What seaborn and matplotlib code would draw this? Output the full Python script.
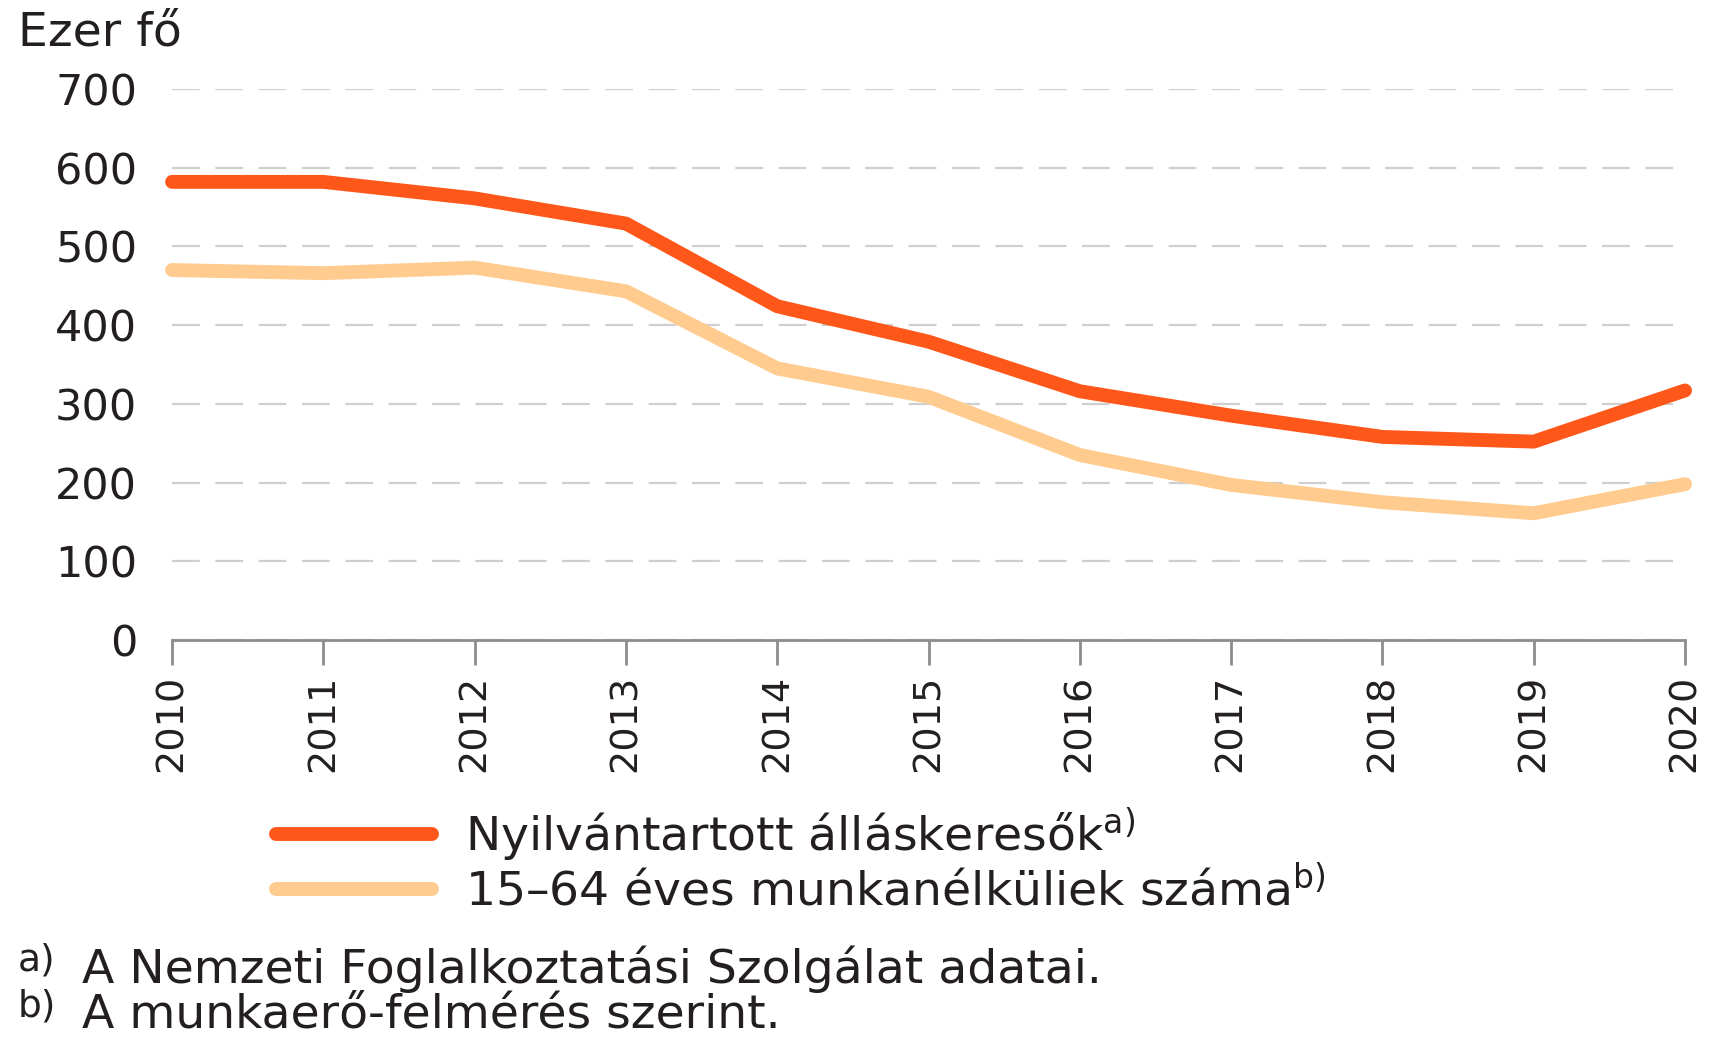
import pandas as pd
import seaborn as sns
import matplotlib.pyplot as plt

# Adatok (ezer fő)
years = list(range(2010, 2021))
allaskeresok = [582, 582, 561, 529, 424, 379, 316, 285, 258, 252, 317]
munkanelkuliek = [470, 466, 473, 443, 345, 309, 235, 197, 175, 161, 198]
series_names = ['Nyilvántartott álláskeresők', '15–64 éves munkanélküliek száma']
footnote_marks = ['a)', 'b)']
footnotes = ['A Nemzeti Foglalkoztatási Szolgálat adatai.',
             'A munkaerő-felmérés szerint.']
y_ticks = [0, 100, 200, 300, 400, 500, 600, 700]
unit_label = 'Ezer fő'
colors = ['#ff5719', '#ffcb8e']
text_color = '#231f20'

df = pd.DataFrame({'ev': years,
                   series_names[0]: allaskeresok,
                   series_names[1]: munkanelkuliek})
long = df.melt(id_vars='ev', var_name='sorozat', value_name='ertek')

sns.set_style('white')
plt.rcParams['font.family'] = ['DejaVu Sans']
plt.rcParams['mathtext.fontset'] = 'dejavusans'
plt.rcParams['text.color'] = text_color

fig = plt.figure(figsize=(17.14, 10.42), dpi=100)
ax = fig.add_axes([0.1004, 0.3858, 0.8827, 0.5288])

sns.lineplot(data=long, x='ev', y='ertek', hue='sorozat', hue_order=series_names,
             palette=colors, linewidth=10, ax=ax, legend=False)
for line in ax.lines:
    line.set_solid_capstyle('round')
    line.set_solid_joinstyle('round')
    line.set_clip_on(False)

ax.set_xlim(2010, 2020)
ax.set_ylim(0, 700)
ax.set_xlabel('')
ax.set_ylabel('')

# rácsvonalak
ax.set_axisbelow(True)
ax.yaxis.grid(True, color='#cfcfcf', linewidth=1.6, linestyle=(0, (12.5, 7)))
ax.xaxis.grid(False)

for side in ['left', 'right', 'top']:
    ax.spines[side].set_visible(False)
ax.spines['bottom'].set_color('#8c8c8c')
ax.spines['bottom'].set_linewidth(2)

ax.set_yticks(y_ticks)
ax.set_yticklabels([str(v) for v in y_ticks], fontsize=31, color=text_color)
ax.tick_params(axis='y', left=False, length=0, pad=25)

ax.set_xticks(years)
ax.set_xticklabels([str(y) for y in years], rotation=90, fontsize=27.5,
                   color=text_color, va='top')
ax.tick_params(axis='x', bottom=True, direction='out', length=18, width=2,
               color='#8c8c8c', pad=7)

fig.text(18 / 1714, 1 - 45 / 1042, unit_label, fontsize=34, va='baseline')

labels = [f'{name}$^{{\\mathrm{{{m}}}}}$' for name, m in zip(series_names, footnote_marks)]
fig.legend(ax.lines[:2], labels, loc='upper left',
           bbox_to_anchor=(276 / 1714, 1 - 805 / 1042), frameon=False,
           fontsize=34, handlelength=3.3, handletextpad=0.7,
           labelspacing=0.05, borderpad=0, borderaxespad=0)

for i, (m, t) in enumerate(zip(footnote_marks, footnotes)):
    fig.text(18 / 1714, 1 - (971 + i * 45) / 1042, m, fontsize=27, va='baseline')
    fig.text(82 / 1714, 1 - (983 + i * 45) / 1042, t, fontsize=34, va='baseline')

fig.savefig('out.png', dpi=100)
